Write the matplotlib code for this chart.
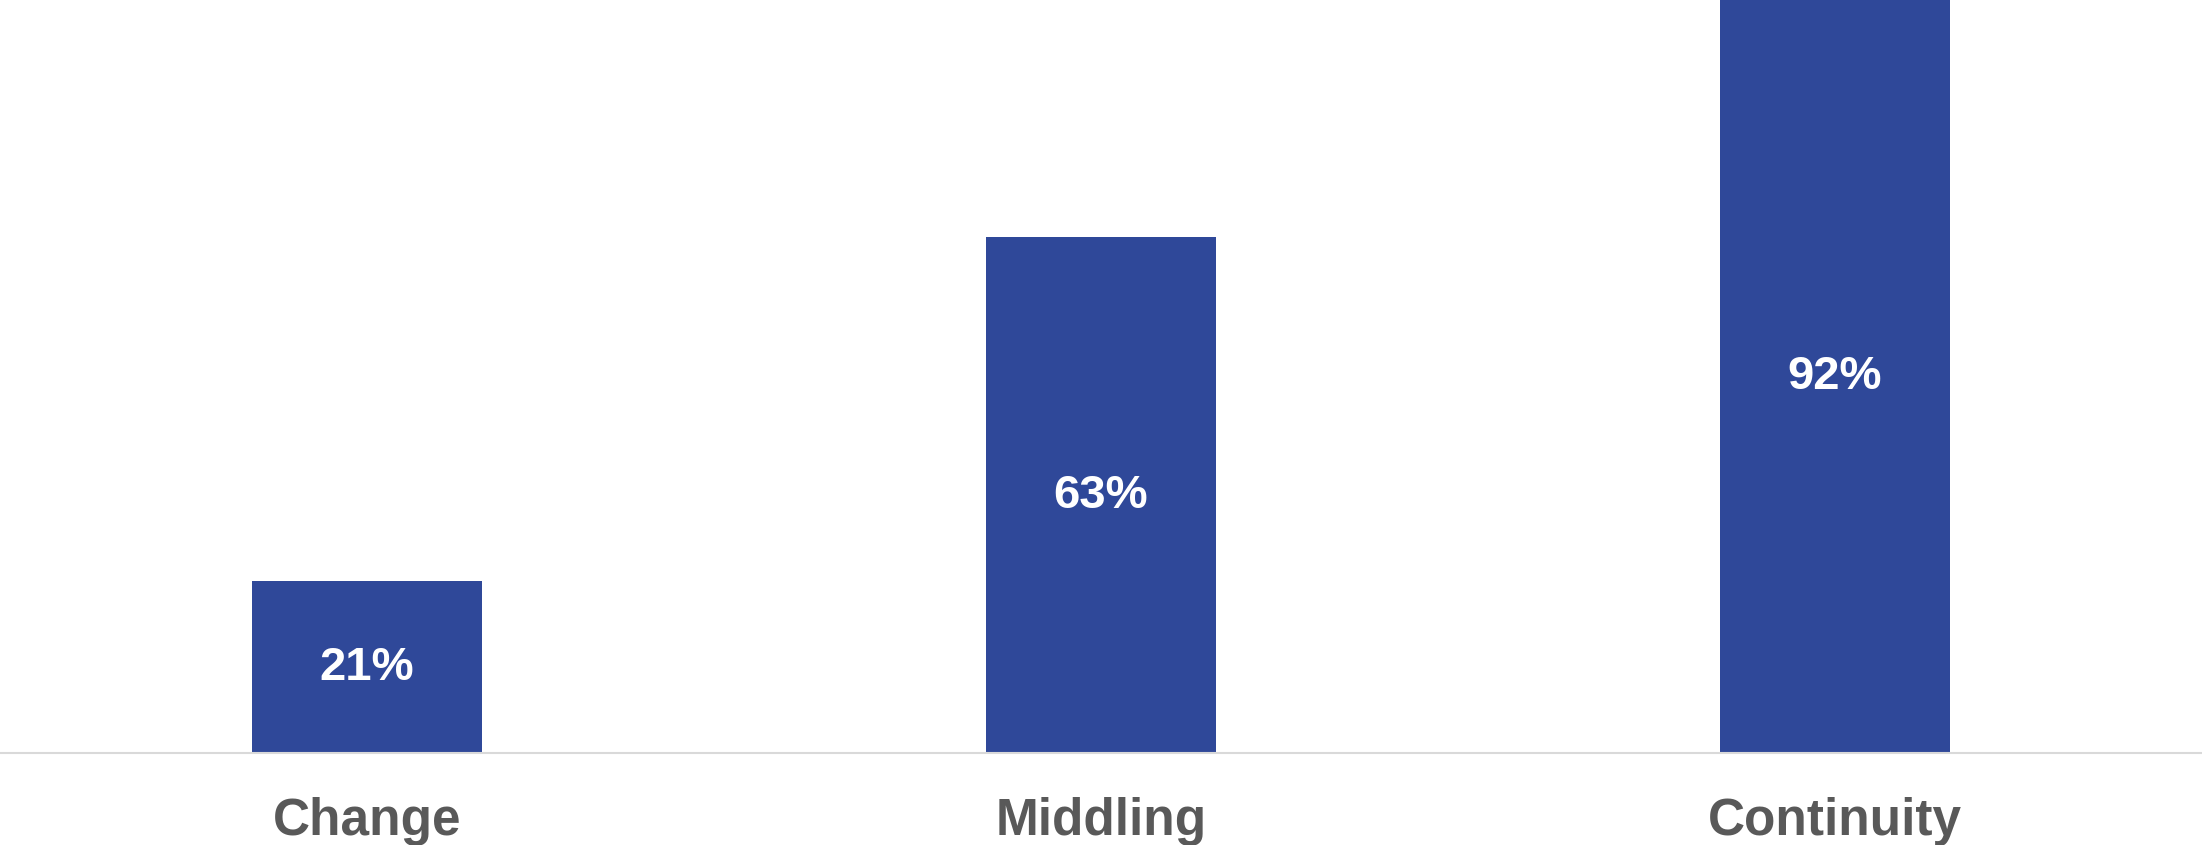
import matplotlib.pyplot as plt

categories = ['Change', 'Middling', 'Continuity']
values = [21, 63, 92]
labels = ['21%', '63%', '92%']

plt.rcParams['font.family'] = ['Liberation Sans', 'DejaVu Sans']

fig = plt.figure(figsize=(22.02, 8.459), dpi=100)
ax = fig.add_axes([0, 92 / 846, 1, 754 / 846])

bars = ax.bar(categories, values, width=0.314, color='#2F4899')

# value labels in the middle of each bar
for b, lab in zip(bars, labels):
    ax.text(b.get_x() + b.get_width() / 2, b.get_height() / 2, lab,
            ha='center', va='center', color='white', fontsize=34,
            fontweight='bold')

ax.set_xlim(-0.5, 2.5)
ax.set_ylim(0, 92)

for s in ['top', 'left', 'right']:
    ax.spines[s].set_visible(False)
ax.spines['bottom'].set_color('#D9D9D9')
ax.spines['bottom'].set_linewidth(1.5)

ax.set_yticks([])
ax.tick_params(axis='x', length=0, pad=31, labelsize=37, labelcolor='#595959')
for t in ax.get_xticklabels():
    t.set_fontweight('bold')

fig.savefig('out.png', dpi=100)
